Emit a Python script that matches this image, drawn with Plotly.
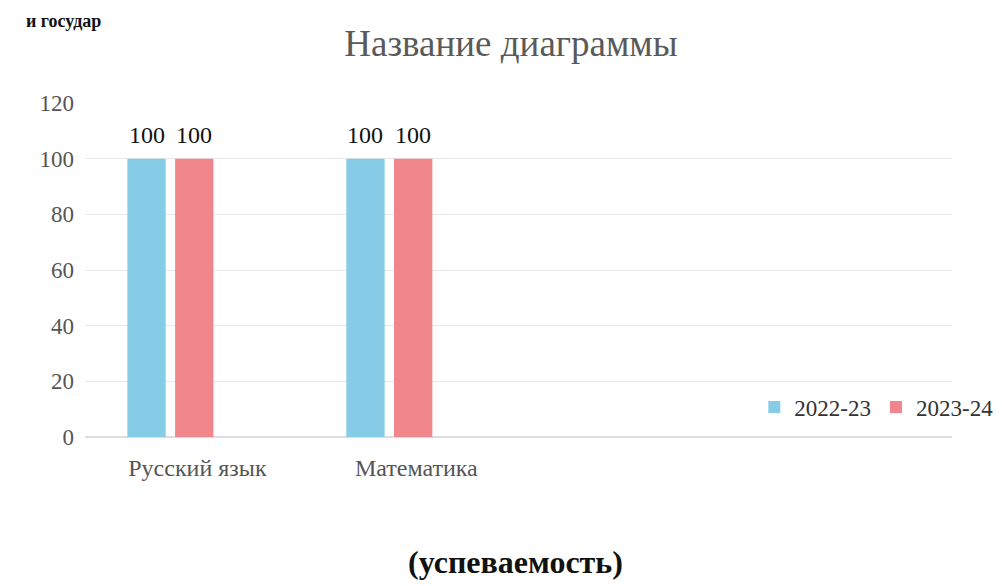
import plotly.graph_objects as go

categories = ["Русский язык", "Математика"]
series_names = ["2022-23", "2023-24"]
values_2022 = [100, 100]
values_2023 = [100, 100]
y_ticks = [0, 20, 40, 60, 80, 100, 120]

colors = ["#86cce7", "#f0868b"]
offsets = [-0.109, 0.109]
xpos = list(range(len(categories)))
serif = "Liberation Serif"

fig = go.Figure()
for name, vals, col, off in [(series_names[0], values_2022, colors[0], offsets[0]),
                             (series_names[1], values_2023, colors[1], offsets[1])]:
    fig.add_trace(go.Bar(
        x=[p + off for p in xpos], y=vals, name=name, width=0.175,
        marker=dict(color=col, line=dict(width=0)),
    ))
    for p, v in zip(xpos, vals):
        fig.add_annotation(x=p + off, y=v, text=str(v), showarrow=False,
                           yanchor="bottom", yshift=9,
                           font=dict(family=serif, size=24, color="#111111"))

fig.update_layout(
    width=1002, height=586,
    margin=dict(l=77, r=35, t=95, b=157),
    paper_bgcolor="white", plot_bgcolor="white",
    barmode="overlay",
    title=dict(text="Название диаграммы", x=0.502, xanchor="center", y=0.94, yanchor="middle",
               font=dict(family=serif, size=37, color="#5a5a5a")),
    font=dict(family=serif, color="#555555"),
    xaxis=dict(range=[-0.39, 3.57], tickvals=xpos, ticktext=categories, showgrid=False,
               zeroline=False, showline=False, tickfont=dict(family=serif, size=24, color="#555555"),
               ticks="", ticklabelstandoff=14, ticklabelshift=27),
    yaxis=dict(range=[0, 120], tickvals=y_ticks, showgrid=True, gridcolor="#e8e8e8",
               zeroline=True, zerolinecolor="#dddddd", showline=False, ticks="",
               tickfont=dict(family=serif, size=23, color="#555555"), ticklabelstandoff=10),
    legend=dict(orientation="h", x=0.772, xanchor="left", y=0.09, yanchor="middle",
                font=dict(family=serif, size=23, color="#333333"), itemwidth=30,
                bgcolor="rgba(0,0,0,0)", traceorder="normal"),
    showlegend=True,
)

fig.add_annotation(text="<b>(успеваемость)</b>", xref="paper", yref="paper",
                   x=0.497, y=-0.375, xanchor="center", yanchor="middle", showarrow=False,
                   font=dict(family=serif, size=32, color="#111111"))
fig.add_annotation(text="<b>и государ</b>", xref="paper", yref="paper",
                   x=-0.07, y=1.245, xanchor="left", yanchor="middle", showarrow=False,
                   font=dict(family=serif, size=18, color="#111111"))

fig.write_html("out.html")
